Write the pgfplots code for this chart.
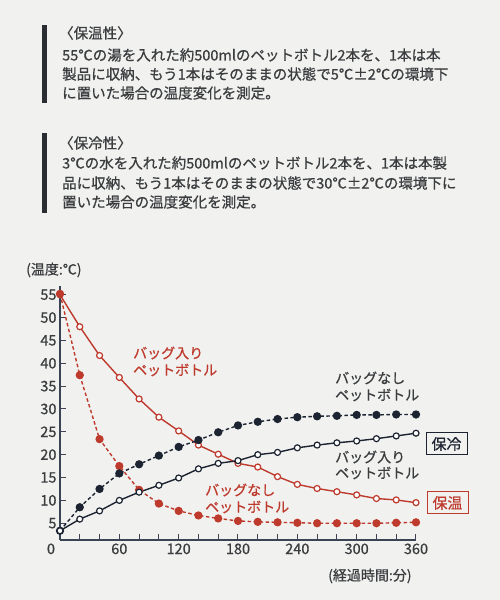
\documentclass[border=0pt]{standalone}
\usepackage{pgfplots}
\pgfplotsset{compat=1.18}
\usepackage{fontspec}
\setmainfont{Noto Sans CJK JP}[RawFeature={embolden=0.7}]
\definecolor{bg}{HTML}{F1F1F0}
\definecolor{txt}{HTML}{3A3C3E}
\definecolor{bar}{HTML}{2A2E33}
\definecolor{cred}{HTML}{BE3A2C}
\definecolor{cblk}{HTML}{1C2431}
\definecolor{axc}{HTML}{3B4452}
\pgfplotstableread{
x redbag rednobag blknobag blkbag
0 55.0 55.2 3.35 3.35
20 48.0 37.4 8.5 5.9
40 41.7 23.4 12.5 7.7
60 36.9 17.5 15.9 10.0
80 32.2 12.3 17.9 11.8
100 28.2 9.3 19.8 13.3
120 25.2 7.7 21.7 14.9
140 22.1 6.7 23.2 16.9
160 20.1 6.05 24.9 18.1
180 18.1 5.5 26.4 18.7
200 17.3 5.3 27.2 20.0
220 15.2 5.2 27.8 20.5
240 13.5 5.1 28.2 21.5
260 12.6 5.0 28.4 22.1
280 11.9 5.0 28.5 22.6
300 11.2 5.0 28.7 23.0
320 10.4 5.0 28.7 23.5
340 10.1 5.1 28.8 24.1
360 9.5 5.2 28.8 24.7
}\data
\begin{document}
\begin{tikzpicture}
\fill[bg] (0bp,0bp) rectangle (500bp,600bp);
% text blocks
\fill[bar] (42bp,497bp) rectangle (46.5bp,575bp);
\fill[bar] (42bp,387bp) rectangle (46.5bp,467bp);
\begin{scope}[every node/.style={anchor=west,inner sep=0pt,text=txt,font=\fontsize{14.5bp}{17bp}\selectfont}]
\node at (59bp,567bp) {〈保温性〉};
\node at (62bp,545bp) {55℃の湯を入れた約500mlのペットボトル2本を、1本は本};
\node at (62bp,526bp) {製品に収納、もう1本はそのままの状態で5℃±2℃の環境下};
\node at (62bp,507bp) {に置いた場合の温度変化を測定。};
\node at (59bp,457bp) {〈保冷性〉};
\node at (62bp,437bp) {3℃の水を入れた約500mlのペットボトル2本を、1本は本製};
\node at (62bp,417bp) {品に収納、もう1本はそのままの状態で30℃±2℃の環境下に};
\node at (62bp,398bp) {置いた場合の温度変化を測定。};
\end{scope}
\begin{axis}[
  at={(60bp,60bp)}, anchor=south west,
  scale only axis, width=356bp, height=254.4bp,
  xmin=0, xmax=360, ymin=1.33, ymax=57,
  axis x line*=bottom, axis y line*=left,
  axis line style={axc, line width=1.1bp, -},
  xtick={0,60,...,360},
  xticklabels={\llap{0\hspace{5bp}},60,120,180,240,300,360},
  minor xtick={20,40,80,100,140,160,200,220,260,280,320,340},
  ytick={5,10,...,55},
  tick style={axc, line width=1bp},
  major tick length=6bp, minor tick length=6bp,
  tick align=inside,
  /pgf/number format/assume math mode=true,
  ticklabel style={font=\fontsize{14.5bp}{16bp}\selectfont, text=txt},
  clip=false,
]
\addplot[cred, line width=1.4bp, mark=*, mark size=3bp, mark options={solid, fill=white, line width=1.2bp}] table[x=x,y=redbag] {\data};
\addplot[cred, line width=1.4bp, dash pattern=on 3.5bp off 2.5bp, mark=*, mark size=3.4bp, mark options={solid, fill=cred}] table[x=x,y=rednobag] {\data};
\addplot[cblk, line width=1.4bp, dash pattern=on 3.5bp off 2.5bp, mark=*, mark size=3.4bp, mark options={solid, fill=cblk}] table[x=x,y=blknobag] {\data};
\addplot[cblk, line width=1.4bp, mark=*, mark size=3bp, mark options={solid, fill=white, line width=1.2bp}] table[x=x,y=blkbag] {\data};
\end{axis}
\begin{scope}[every node/.style={anchor=west,inner sep=0pt,font=\fontsize{14bp}{16bp}\selectfont}]
\node[text=txt] at (26bp,330bp) {(温度:℃)};
\node[text=cred] at (133bp,247bp) {バッグ入り};
\node[text=cred] at (133bp,230bp) {ペットボトル};
\node[text=txt] at (335bp,222bp) {バッグなし};
\node[text=txt] at (335bp,205bp) {ペットボトル};
\node[text=txt] at (335bp,143bp) {バッグ入り};
\node[text=txt] at (335bp,127bp) {ペットボトル};
\node[text=cred] at (205bp,110bp) {バッグなし};
\node[text=cred] at (205bp,93bp) {ペットボトル};
\node[text=txt] at (328bp,24bp) {(経過時間:分)};
\end{scope}
\node[draw=cblk, line width=1bp, text=cblk, inner sep=0pt, minimum width=41bp, minimum height=22bp, font=\fontsize{15bp}{17bp}\selectfont] at (446.5bp,156bp) {保冷};
\node[draw=cred, line width=1bp, text=cred, inner sep=0pt, minimum width=41bp, minimum height=22bp, font=\fontsize{15bp}{17bp}\selectfont] at (447.5bp,97bp) {保温};
\end{tikzpicture}
\end{document}
